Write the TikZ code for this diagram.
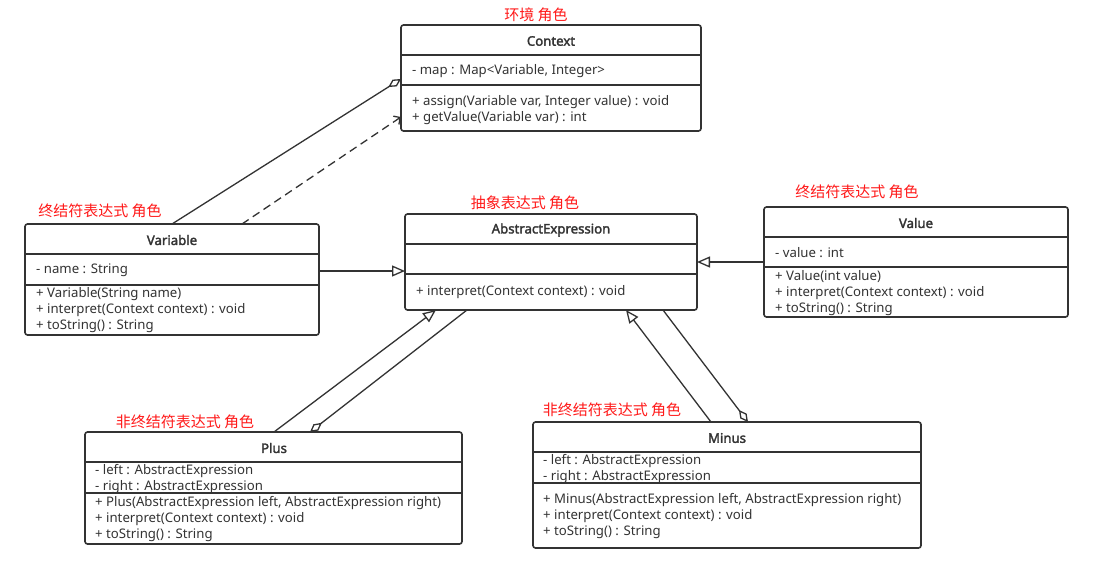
\documentclass[tikz,border=0pt]{standalone}
\usepackage{fontspec}
\setmainfont{Noto Sans}[BoldFont={Noto Sans},BoldFeatures={FakeBold=2.2}]
\newfontfamily\cjk{Noto Sans CJK SC}
\usetikzlibrary{arrows.meta,calc}
\definecolor{linec}{HTML}{333333}
\definecolor{textc}{HTML}{333333}
\definecolor{rolec}{HTML}{FF1A1A}
\begin{document}
\begin{tikzpicture}[x=1pt,y=-1pt,
  cls/.style={draw=linec, line width=1.6pt, rounded corners=2.5pt, anchor=north west, inner sep=0pt, outer sep=0pt},
  div/.style={draw=linec, line width=1.4pt},
  ttl/.style={text=textc, inner sep=0pt, font=\fontsize{13.2}{16}\selectfont\bfseries},
  txt/.style={text=textc, inner sep=0pt, anchor=west, font=\fontsize{13.2}{16}\selectfont},
  role/.style={text=rolec, inner sep=0pt, font=\cjk\fontsize{15}{18}\selectfont},
  conn/.style={draw=linec, line width=1.3pt},
  gen/.style={-{Triangle[open, length=13pt, width=11pt, line width=1.3pt]}},
  agg/.style={{Diamond[open, length=15pt, width=8pt, line width=1.3pt]}-},
  dep/.style={-{Straight Barb[length=5pt, width=10pt, line width=1.3pt]}, dash pattern=on 8pt off 5pt}
]
\useasboundingbox[fill=white] (0,0) rectangle (1093,573);

% ---------- Context ----------
\node[cls, minimum width=300pt, minimum height=106pt] (ctx) at (401,25) {};
\draw[div] (401,55) -- (701,55);
\draw[div] (401,85) -- (701,85);
\node[ttl] (ctxT) at (551,41) {Context};
\node[txt] (ctxA) at (412,71) {- map : Map<Variable, Integer>};
\node[txt] (ctxM1) at (412,102) {+ assign(Variable var, Integer value) : void};
\node[txt] (ctxM2) at (412,118) {+ getValue(Variable var) : int};
\node[role] (ctxR) at (536,15) {环境 角色};

% ---------- Variable ----------
\node[cls, minimum width=294pt, minimum height=111pt] (var) at (25,224) {};
\draw[div] (25,254) -- (319,254);
\draw[div] (25,285) -- (319,285);
\node[ttl] (varT) at (172,240) {Variable};
\node[txt] (varA) at (36,270) {- name : String};
\node[txt] (varM1) at (36,294) {+ Variable(String name)};
\node[txt] (varM2) at (36,310) {+ interpret(Context context) : void};
\node[txt] (varM3) at (36,326) {+ toString() : String};
\node[role] (varR) at (100,211) {终结符表达式 角色};

% ---------- AbstractExpression ----------
\node[cls, minimum width=292pt, minimum height=96pt] (ae) at (405,214) {};
\draw[div] (405,244) -- (697,244);
\draw[div] (405,274) -- (697,274);
\node[ttl] (aeT) at (551,230) {AbstractExpression};
\node[txt] (aeM1) at (416,292) {+ interpret(Context context) : void};
\node[role] (aeR) at (525,203) {抽象表达式 角色};

% ---------- Value ----------
\node[cls, minimum width=304pt, minimum height=110pt] (val) at (764,207) {};
\draw[div] (764,237) -- (1068,237);
\draw[div] (764,267) -- (1068,267);
\node[ttl] (valT) at (916,223) {Value};
\node[txt] (valA) at (775,253) {- value : int};
\node[txt] (valM1) at (775,277) {+ Value(int value)};
\node[txt] (valM2) at (775,293) {+ interpret(Context context) : void};
\node[txt] (valM3) at (775,309) {+ toString() : String};
\node[role] (valR) at (857,192) {终结符表达式 角色};

% ---------- Plus ----------
\node[cls, minimum width=377pt, minimum height=112pt] (plus) at (85,432) {};
\draw[div] (85,462) -- (462,462);
\node[ttl] (plusT) at (274,448) {Plus};
\node[txt] (plusA1) at (95,471) {- left : AbstractExpression};
\node[txt] (plusA2) at (95,487) {- right : AbstractExpression};
\draw[div] (85,493) -- (462,493);
\node[txt] (plusM1) at (95,503) {+ Plus(AbstractExpression left, AbstractExpression right)};
\node[txt] (plusM2) at (95,519) {+ interpret(Context context) : void};
\node[txt] (plusM3) at (95,535) {+ toString() : String};
\node[role] (plusR) at (185,422) {非终结符表达式 角色};

% ---------- Minus ----------
\node[cls, minimum width=388pt, minimum height=126pt] (minus) at (533,422) {};
\draw[div] (533,452) -- (921,452);
\node[ttl] (minusT) at (727,438) {Minus};
\node[txt] (minusA1) at (543,461) {- left : AbstractExpression};
\node[txt] (minusA2) at (543,477) {- right : AbstractExpression};
\draw[div] (533,483) -- (921,483);
\node[txt] (minusM1) at (543,500) {+ Minus(AbstractExpression left, AbstractExpression right)};
\node[txt] (minusM2) at (543,516) {+ interpret(Context context) : void};
\node[txt] (minusM3) at (543,532) {+ toString() : String};
\node[role] (minusR) at (612,410) {非终结符表达式 角色};

% ---------- connectors ----------
\draw[conn, agg] ($(ctx.north west)+(0,54)$) -- ($(var.north west)+(147,0)$);
\draw[conn, dep] ($(var.north west)+(217,0)$) -- ($(ctx.north west)+(0,92)$);
\draw[conn, gen] ($(var.north east)+(0,47)$) -- ($(ae.north west)+(0,57)$);
\draw[conn, gen] ($(val.north west)+(0,55)$) -- ($(ae.north east)+(0,48)$);
\draw[conn, gen] ($(plus.north west)+(189,0)$) -- ($(ae.south west)+(31,0)$);
\draw[conn, agg] ($(plus.north west)+(225,0)$) -- ($(ae.south west)+(62,0)$);
\draw[conn, gen] ($(minus.north west)+(178,0)$) -- ($(ae.south west)+(221,0)$);
\draw[conn, agg] ($(minus.north west)+(215,0)$) -- ($(ae.south west)+(258,0)$);
\end{tikzpicture}
\end{document}
